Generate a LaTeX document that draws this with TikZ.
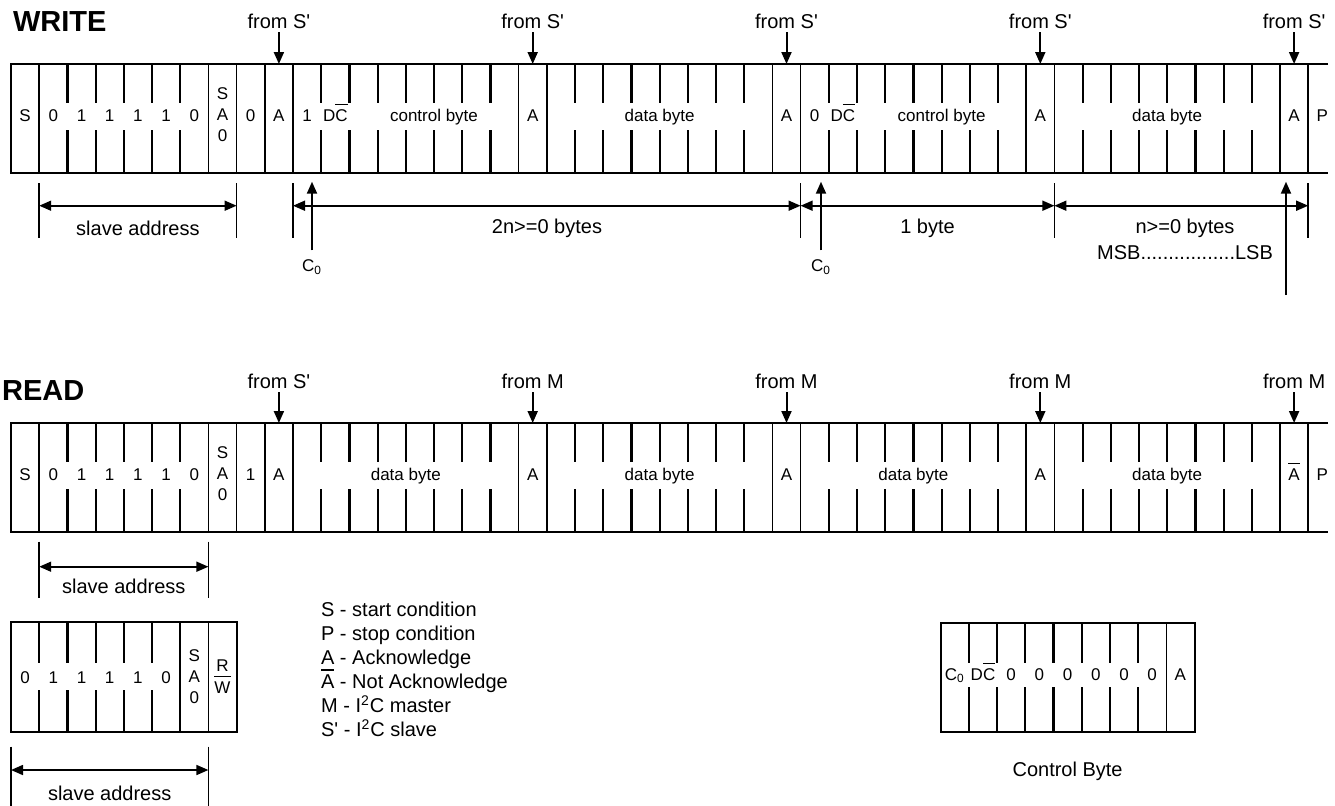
\documentclass[tikz,border=0pt]{standalone}
\usepackage{fontspec}
\setmainfont{Liberation Sans}
\usetikzlibrary{arrows.meta}

\newcommand\ovl[1]{\leavevmode\vbox{\hrule height 0.6pt\kern 2.2pt\hbox{#1}}}
\newcommand\slv{S\textquotesingle}

\tikzset{
  edge/.style={line width=1pt},
  sep/.style={line width=0.8pt},
  bit/.style={line width=1.1pt},
  cell/.style={inner sep=0pt, anchor=base, font=\fontsize{8.5}{10.5}\selectfont},
  lbl/.style={inner sep=0pt, anchor=base, font=\fontsize{10}{12}\selectfont},
  title/.style={inner sep=0pt, anchor=base west, font=\fontsize{14.5}{16}\selectfont\bfseries},
  fromlbl/.style={lbl, inner ysep=1.7pt},
  ptr/.style={line width=1pt, -{Triangle[length=6pt,width=5pt]}},
  dim/.style={line width=0.8pt, {Triangle[length=6pt,width=5pt]}-{Triangle[length=6pt,width=5pt]}},
}

\begin{document}
\begin{tikzpicture}[x=0.5pt, y=-0.5pt]
\useasboundingbox (0,0) rectangle (1335,805);
\def\cw{28.2}

% Titoli
\node[title] (write) at (12.7,31.7) {WRITE};
\node[title] (read) at (1.7,400) {READ};

% Righe
\foreach \y in {64,423} {
  \draw[edge] (1328,\y) -- (11,\y) -- (11,\y+109) -- (1328,\y+109);
  \foreach \i in {1,7,8,9,10,18,19,27,28,36,37,45,46}
    \draw[sep] ({11+\cw*\i},\y) -- ++(0,109);
  \foreach \i in {2,...,6} {
    \draw[bit] ({11+\cw*\i},\y) -- ++(0,39);
    \draw[bit] ({11+\cw*\i},\y+66) -- ++(0,43);
  }
  \foreach \b in {10,19,28,37}
    \foreach \k in {1,...,7} {
      \draw[bit] ({11+\cw*(\b+\k)},\y) -- ++(0,39);
      \draw[bit] ({11+\cw*(\b+\k)},\y+66) -- ++(0,43);
    }
}
\coordinate (wtop) at (0,64);
\coordinate (wtip) at (0,181.7);
\coordinate (rtop) at (0,423);

% Campi comuni
\foreach \y/\r in {121/w,480/r} {
  \foreach \t [count=\k from 0] in {S,0,1,1,1,1,0}
    \node[cell] (\r\k) at ({11+\cw*(\k+0.5)},\y) {\t};
  \node[cell, anchor=center, align=center] (\r-sa) at ({11+\cw*7.5},\y-6.5) {S\\A\\0};
}

% WRITE
\foreach \c/\t in {8/0,9/A,10/1,11/D\ovl{C},18/A,27/A,28/0,29/D\ovl{C},36/A,45/A,46/P}
  \node[cell] (w\c) at ({11+\cw*(\c+0.5)},121) {\t};
\foreach \c/\t/\n in {15/control byte/wcb1,23/data byte/wdb1,33/control byte/wcb2,41/data byte/wdb2}
  \node[cell] (\n) at ({11+\cw*\c},121) {\t};
\foreach \c [count=\k] in {9,18,27,36,45} {
  \node[fromlbl] (wf\k) at ({11+\cw*(\c+0.5)},28.3) {from \slv};
  \draw[ptr] (wf\k.south) -- (wf\k.south |- wtop);
}

% Quote WRITE
\foreach \i in {1,8,10,28,37,46} {
  \coordinate (wd\i) at ({11+\cw*\i},205.7);
  \draw[sep] (wd\i) ++(0,-22.7) -- ++(0,55);
}
\draw[dim] (wd1) -- (wd8);
\draw[dim] (wd10) -- (wd28);
\draw[dim] (wd28) -- (wd37);
\draw[dim] (wd37) -- (wd46);
\node[lbl] (wsa) at ({11+\cw*4.5},235.7) {slave address};
\node[lbl] (wn2) at (547,233) {2n>=0 bytes};
\node[lbl] (w1b) at (927.5,233) {1 byte};
\node[lbl] (wn) at (1185,233) {n>=0 bytes};
\node[lbl] (wmsb) at (1185,259.3) {MSB.................LSB};
\node[cell, inner ysep=4.5pt] (c1) at (312,271.7) {C\textsubscript{0}};
\node[cell, inner ysep=4.5pt] (c2) at (821,271.7) {C\textsubscript{0}};
\coordinate (lsb) at (1286,295);
\draw[ptr] (c1.north) -- (c1.north |- wtip);
\draw[ptr] (c2.north) -- (c2.north |- wtip);
\draw[ptr] (lsb) -- (lsb |- wtip);

% READ
\foreach \c/\t in {8/1,9/A,18/A,27/A,36/A,45/\ovl{A},46/P}
  \node[cell] (r\c) at ({11+\cw*(\c+0.5)},480) {\t};
\foreach \c [count=\k] in {14,23,32,41}
  \node[cell] (rdb\k) at ({11+\cw*\c},480) {data byte};
\node[fromlbl] (rf1) at ({11+\cw*9.5},388.3) {from \slv};
\foreach \c [count=\k from 2] in {18,27,36,45}
  \node[fromlbl] (rf\k) at ({11+\cw*(\c+0.5)},388.3) {from M};
\foreach \k in {1,...,5}
  \draw[ptr] (rf\k.south) -- (rf\k.south |- rtop);

% Quote READ
\foreach \i in {1,7} {
  \coordinate (rd\i) at ({11+\cw*\i},566.7);
  \draw[sep] (rd\i) ++(0,-25) -- ++(0,56.3);
}
\draw[dim] (rd1) -- (rd7);
\node[lbl] (rsa) at ({11+\cw*4},593.3) {slave address};

% Indirizzo slave
\draw[edge] (11,621.7) rectangle ++(8*\cw,110);
\foreach \i in {6,7}
  \draw[sep] ({11+\cw*\i},621.7) -- ++(0,110);
\foreach \i in {1,...,5} {
  \draw[bit] ({11+\cw*\i},621.7) -- ++(0,41);
  \draw[bit] ({11+\cw*\i},690) -- ++(0,41.7);
}
\foreach \t [count=\k from 0] in {0,1,1,1,1,0}
  \node[cell] (a\k) at ({11+\cw*(\k+0.5)},683.3) {\t};
\node[cell, anchor=center, align=center] (a-sa) at ({11+\cw*6.5},677) {S\\A\\0};
\node[cell, anchor=center, align=center, font=\fontsize{8.5}{10.8}\selectfont] (a-rw) at ({11+\cw*7.5},676.5) {R\\\ovl{W}};
\foreach \i in {0,7} {
  \coordinate (sd\i) at ({11+\cw*\i},770);
  \draw[sep] (sd\i) ++(0,-23.3) -- ++(0,70);
}
\draw[dim] (sd0) -- (sd7);
\node[lbl] (ssa) at ({11+\cw*3.5},800) {slave address};

% Legenda
\foreach \t [count=\k from 0] in {S - start condition, P - stop condition, A - Acknowledge, \ovl{A} - Not Acknowledge, M - I\textsuperscript{2}C master, \slv{} - I\textsuperscript{2}C slave}
  \node[lbl, anchor=base west] (leg\k) at (320.7,{616.7+24*\k}) {\t};

% Control byte
\draw[edge] (940.7,622.7) rectangle ++(9*\cw,109);
\draw[sep] ({940.7+\cw*8},622.7) -- ++(0,109);
\foreach \i in {1,...,7} {
  \draw[bit] ({940.7+\cw*\i},622.7) -- ++(0,40.5);
  \draw[bit] ({940.7+\cw*\i},687) -- ++(0,44.7);
}
\foreach \t [count=\k from 0] in {C\textsubscript{0},D\ovl{C},0,0,0,0,0,0,A}
  \node[cell] (cb\k) at ({940.7+\cw*(\k+0.5)},680) {\t};
\node[lbl] (cbyte) at ({940.7+\cw*4.5},776.7) {Control Byte};
\end{tikzpicture}
\end{document}
